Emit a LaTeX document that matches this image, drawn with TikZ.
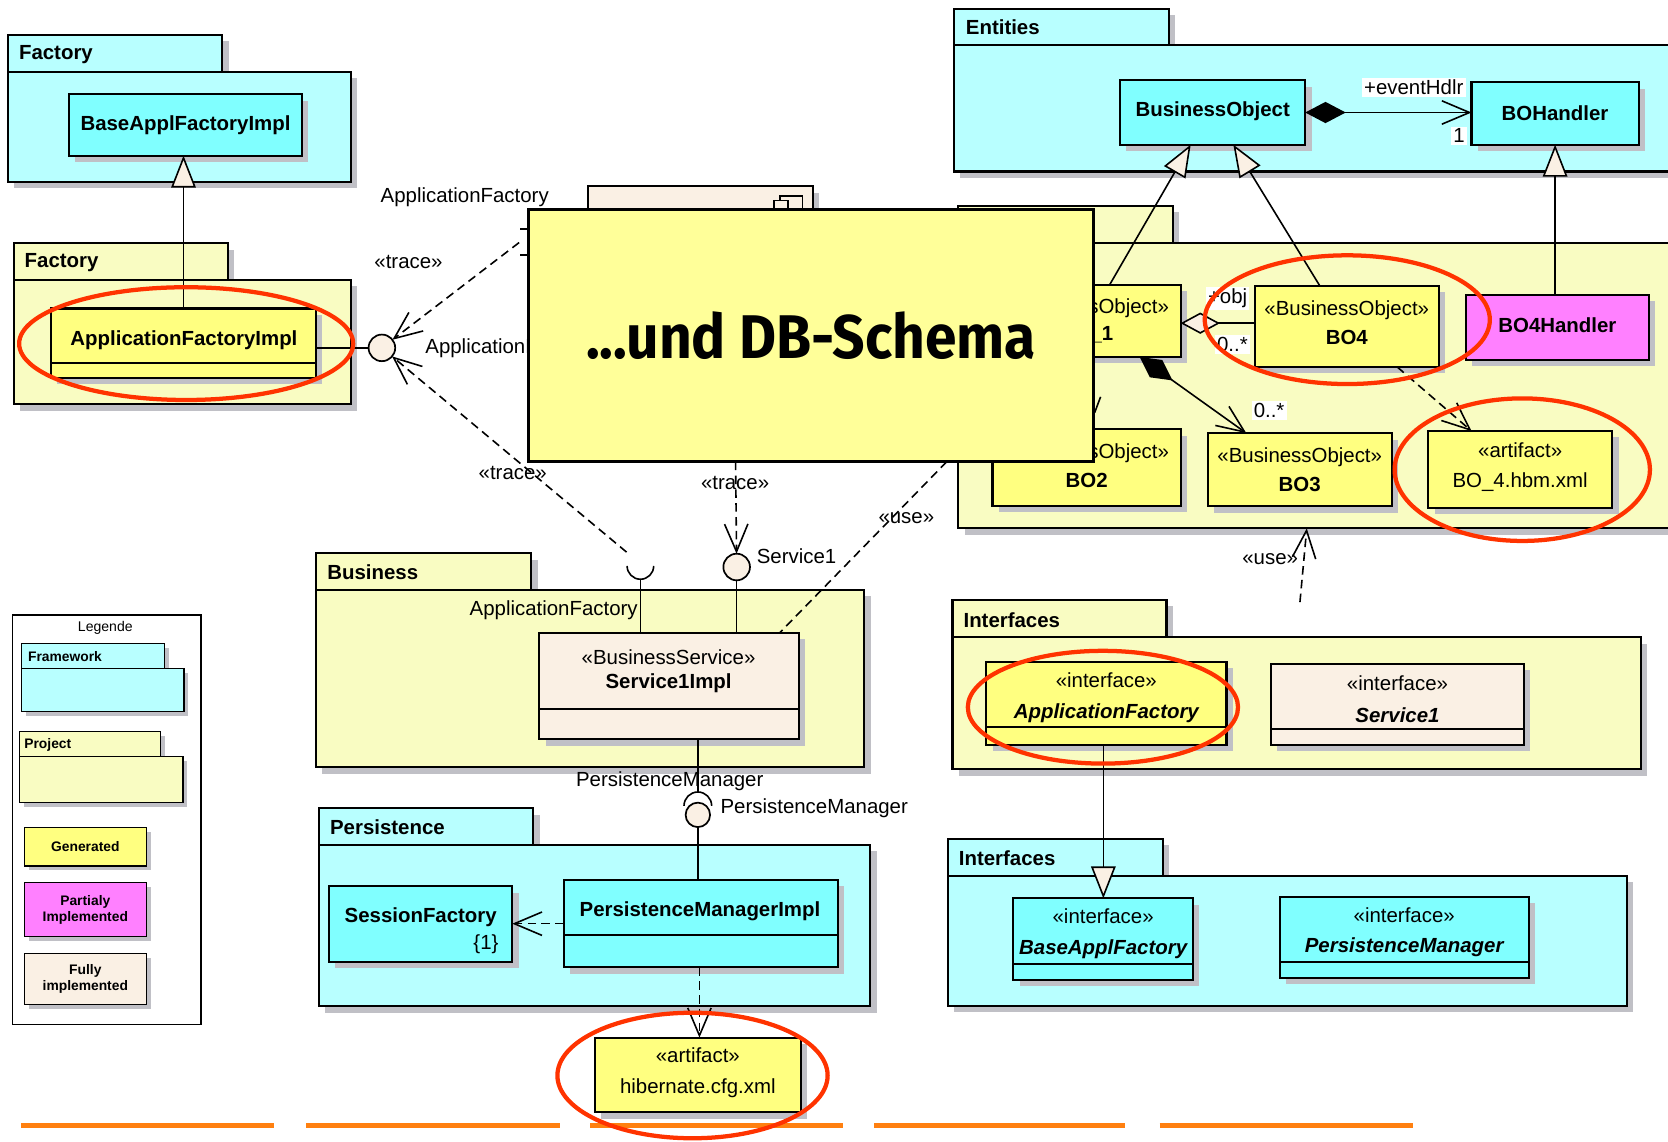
\documentclass[tikz,border=0pt]{standalone}
\usepackage{fontspec}
\setmainfont{Liberation Sans}
\newfontfamily\titlefont{Fira Sans}
\usetikzlibrary{arrows.meta,shadows,fit,calc}
\definecolor{pkgcyan}{RGB}{184,255,255}
\definecolor{clscyan}{RGB}{128,255,255}
\definecolor{pkgyel}{RGB}{249,252,194}
\definecolor{clsyel}{RGB}{255,255,128}
\definecolor{cream}{RGB}{250,240,228}
\definecolor{pink}{RGB}{255,128,255}
\definecolor{shadowc}{RGB}{192,192,198}
\definecolor{notey}{RGB}{255,255,153}
\definecolor{ringred}{RGB}{255,51,0}
\definecolor{barorange}{RGB}{255,128,16}
\begin{document}
\begin{tikzpicture}[x=0.5pt,y=-0.5pt,
  font=\fontsize{9.6}{11}\selectfont,
  shade/.style={drop shadow={shadow xshift=3pt,shadow yshift=-3pt,fill=shadowc,opacity=1}},
  smallshade/.style={drop shadow={shadow xshift=2pt,shadow yshift=-2pt,fill=shadowc,opacity=1}},
  box/.style={draw=black,line width=1pt,inner sep=0pt,outer sep=0pt,shade},
  lbox/.style={draw=black,line width=0.7pt,inner sep=0pt,outer sep=0pt,smallshade},
  pkgname/.style={anchor=west,inner sep=0pt,font=\fontsize{9.6}{11}\selectfont\bfseries},
  txt/.style={inner sep=0pt},
  btxt/.style={inner sep=0pt,font=\fontsize{9.6}{11}\selectfont\bfseries},
  itxt/.style={inner sep=0pt,font=\fontsize{9.6}{11}\selectfont\bfseries\itshape},
  wlbl/.style={fill=white,inner sep=1pt},
  ltxt/.style={inner sep=0pt,align=center,font=\fontsize{6.5}{7.6}\selectfont\bfseries},
  lol/.style={circle,draw=black,line width=0.8pt,fill=cream,inner sep=0pt,outer sep=0pt,minimum size=#1},
  thin/.style={line width=0.75pt},
  dep/.style={thin,dash pattern=on 4pt off 2.5pt,-{Straight Barb[length=13pt,width=11pt]}},
  dashline/.style={thin,dash pattern=on 4pt off 2.5pt},
  gen/.style={thin,-{Triangle[length=15pt,width=11.5pt,fill=cream]}},
  compo/.style={thin,{Diamond[length=19pt,width=10pt,fill=black]}-{Straight Barb[length=13pt,width=11pt]}},
  aggr/.style={thin,{Diamond[length=18.5pt,width=10pt,fill=cream]}-},
  ring/.style={draw=ringred,line width=2pt},
  bar/.style={draw=barorange,line width=2.4pt}]

\useasboundingbox (0,0) rectangle (1568,1073);
\clip (0,0) rectangle (1568,1073);

% ---------- packages ----------
\node[box,fill=pkgcyan,fit={(7.4,32.9)(208.8,68.9)}] (facCtab) {};
\node[box,fill=pkgcyan,fit={(7.4,67.4)(330,170.8)}] (facC) {};
\node[pkgname] (facCname) at (17.5,51) {Factory};

\node[box,fill=pkgyel,fit={(12.8,228.8)(214,264.8)}] (facYtab) {};
\node[box,fill=pkgyel,fit={(12.8,263)(330,380)}] (facY) {};
\node[pkgname] (facYname) at (22.8,246.5) {Factory};

\node[box,fill=pkgcyan,fit={(896.7,8.4)(1098.7,43.6)}] (entTab) {};
\node[box,fill=pkgcyan,fit={(896.7,42.6)(1600,161.2)}] (ent) {};
\node[pkgname] (entName) at (907.6,25.5) {Entities};

\node[box,fill=pkgyel,fit={(900.8,193.6)(1102.7,229.7)}] (busobjTab) {};
\node[box,fill=pkgyel,fit={(900.8,228.7)(1600,496.7)}] (busobj) {};

\node[box,fill=pkgyel,fit={(296.9,520.2)(499.5,556.3)}] (busTab) {};
\node[box,fill=pkgyel,fit={(296.9,554.4)(812.5,721.3)}] (bus) {};
\node[pkgname] (busName) at (307.3,538.2) {Business};

\node[box,fill=pkgcyan,fit={(299.5,759.9)(501.3,795.9)}] (perTab) {};
\node[box,fill=pkgcyan,fit={(299.5,794)(818,946)}] (per) {};
\node[pkgname] (perName) at (309.9,777.9) {Persistence};

\node[box,fill=pkgyel,fit={(895.4,564)(1096.6,600.7)}] (ifYtab) {};
\node[box,fill=pkgyel,fit={(895.4,599)(1542.6,723.2)}] (ifY) {};
\node[pkgname] (ifYname) at (905.4,582.8) {Interfaces};

\node[box,fill=pkgcyan,fit={(891,788.7)(1093,824.7)}] (ifCtab) {};
\node[box,fill=pkgcyan,fit={(891,823.5)(1529.5,945.7)}] (ifC) {};
\node[pkgname] (ifCname) at (901,806.9) {Interfaces};

% ---------- legend ----------
\node[draw=black,line width=0.6pt,fill=white,inner sep=0pt,fit={(11.7,578)(189,963)}] (legend) {};
\node[inner sep=0pt,font=\fontsize{6.6}{7.6}\selectfont] (legendTitle) at (99,590.6) {Legende};
\node[lbox,fill=pkgcyan,fit={(20,604.7)(154.4,629.2)}] (lgFwTab) {};
\node[lbox,fill=pkgcyan,fit={(20,628.3)(172.9,669)}] (lgFw) {};
\node[ltxt,anchor=west] (lgFwName) at (26,617) {Framework};
\node[lbox,fill=pkgyel,fit={(18.5,687.8)(151,712.9)}] (lgPrTab) {};
\node[lbox,fill=pkgyel,fit={(18.5,711.3)(171.9,754.5)}] (lgPr) {};
\node[ltxt,anchor=west] (lgPrName) at (22.5,700.3) {Project};
\node[lbox,fill=clsyel,fit={(22.8,778)(137.6,814)}] (lgGen) {};
\node[ltxt] (lgGenT) at (lgGen.center) {Generated};
\node[lbox,fill=pink,fit={(22.8,829.8)(137.6,880.5)}] (lgPart) {};
\node[ltxt] (lgPartT) at (lgPart.center) {Partialy\\Implemented};
\node[lbox,fill=cream,fit={(22.8,896.2)(137.6,944.1)}] (lgFull) {};
\node[ltxt] (lgFullT) at (lgFull.center) {Fully\\implemented};

% ---------- component (under the note) ----------
\node[box,fill=cream,fit={(553,175)(764,300)}] (comp) {};
\draw[thin,fill=cream] (733,184) rectangle (754.5,200);
\draw[thin,fill=cream] (727.5,188.5) rectangle (741,200);
\draw[thin] (489,215.3) -- (495,215.3);
\draw[thin] (489,239.7) -- (495,239.7);

% ---------- classes ----------
\node[box,fill=clscyan,fit={(64.8,88.7)(284,146.3)}] (baseimpl) {};
\node[btxt] (baseimplT) at (174.4,117.5) {BaseApplFactoryImpl};

\node[box,fill=clsyel,fit={(48,290)(297,355)}] (afimpl) {};
\draw[line width=1pt] ([yshift=6.7pt]afimpl.south west) -- ([yshift=6.7pt]afimpl.south east);
\node[btxt] (afimplT) at (172.9,319.7) {ApplicationFactoryImpl};

\node[box,fill=cream,fit={(507,594.8)(751,695)}] (s1impl) {};
\draw[line width=1pt] ([yshift=14.4pt]s1impl.south west) -- ([yshift=14.4pt]s1impl.south east);
\node[txt] (s1implS) at (628.5,617.5) {«BusinessService»};
\node[btxt] (s1implT) at (628.5,642.7) {Service1Impl};

\node[box,fill=clscyan,fit={(309,833)(481.6,904)}] (sessf) {};
\node[btxt] (sessfT) at (395.5,862.6) {SessionFactory};
\node[txt,anchor=east] (sessfC) at (469,887.8) {\{1\}};

\node[box,fill=clscyan,fit={(530,827.2)(787.6,909.4)}] (pmi) {};
\draw[line width=1pt] ([yshift=15.3pt]pmi.south west) -- ([yshift=15.3pt]pmi.south east);
\node[btxt] (pmiT) at (658,856.4) {PersistenceManagerImpl};

\node[box,fill=clsyel,fit={(559,975.4)(753,1045.6)}] (hib) {};
\node[txt] (hibS) at (656,992.3) {«artifact»};
\node[txt] (hibT) at (656,1023) {hibernate.cfg.xml};

\node[box,fill=clscyan,fit={(1052.9,75.5)(1227,136)}] (bo) {};
\node[btxt] (boT) at (1140,104.7) {BusinessObject};
\node[box,fill=clscyan,fit={(1383.3,77.2)(1540.4,136)}] (boh) {};
\node[btxt] (bohT) at (1461.8,106) {BOHandler};

\node[box,fill=clsyel,fit={(933,267.9)(1109.8,335.5)}] (bo1) {};
\node[txt] (bo1S) at (1021.5,289.9) {«BusinessObject»};
\node[btxt] (bo1T) at (1021.5,315) {BO\_1};

\node[box,fill=clsyel,fit={(933,403.6)(1110,475.7)}] (bo2) {};
\node[txt] (bo2S) at (1021.5,426.4) {«BusinessObject»};
\node[btxt] (bo2T) at (1021.5,451.6) {BO2};

\node[box,fill=clsyel,fit={(1135.4,407.2)(1308.2,476)}] (bo3) {};
\node[txt] (bo3S) at (1221.8,429.7) {«BusinessObject»};
\node[btxt] (bo3T) at (1221.8,455) {BO3};

\node[box,fill=clsyel,fit={(1179.5,268.6)(1352.7,345)}] (bo4) {};
\node[txt] (bo4S) at (1266,292) {«BusinessObject»};
\node[btxt] (bo4T) at (1266,317.3) {BO4};

\node[box,fill=pink,fit={(1378,277)(1550,338)}] (bo4h) {};
\node[btxt] (bo4hT) at (1464,305.5) {BO4Handler};

\node[box,fill=clsyel,fit={(1342.7,405.2)(1515.5,477.4)}] (art4) {};
\node[txt] (art4S) at (1429,423) {«artifact»};
\node[txt] (art4T) at (1429,453.2) {BO\_4.hbm.xml};

\node[box,fill=clsyel,fit={(927.2,622)(1152.9,700.3)}] (iaf) {};
\draw[line width=1pt] ([yshift=8.65pt]iaf.south west) -- ([yshift=8.65pt]iaf.south east);
\node[txt] (iafS) at (1040,639.2) {«interface»};
\node[itxt] (iafT) at (1040,670) {ApplicationFactory};

\node[box,fill=cream,fit={(1194.7,624.2)(1432.6,700.3)}] (is1) {};
\draw[line width=1pt] ([yshift=7.5pt]is1.south west) -- ([yshift=7.5pt]is1.south east);
\node[txt] (is1S) at (1313.7,642.4) {«interface»};
\node[itxt] (is1T) at (1313.7,672) {Service1};

\node[box,fill=clscyan,fit={(952.6,844.5)(1121.4,921.3)}] (ibaf) {};
\draw[line width=1pt] ([yshift=7.55pt]ibaf.south west) -- ([yshift=7.55pt]ibaf.south east);
\node[txt] (ibafS) at (1037,861.7) {«interface»};
\node[itxt] (ibafT) at (1037,892.4) {BaseApplFactory};

\node[box,fill=clscyan,fit={(1203,843)(1437,919)}] (ipm) {};
\draw[line width=1pt] ([yshift=7.5pt]ipm.south west) -- ([yshift=7.5pt]ipm.south east);
\node[txt] (ipmS) at (1320,860) {«interface»};
\node[itxt] (ipmT) at (1320,890) {PersistenceManager};

% ---------- interface symbols ----------
\node[lol=12.5pt] (lolaf) at (359,327) {};
\node[lol=12.5pt] (lols1) at (692.5,533) {};
\node[lol=11.5pt] (lolpm) at (656,766) {};
\coordinate (portA) at (488,228);
\coordinate (sockA) at (589,519);
\coordinate (sockAbot) at (602,544.5);
\coordinate (traceS1) at (691.5,434);
\coordinate (useA) at (890,434);
\coordinate (sockPMtop) at (656,744.5);
\coordinate (useB) at (1222,566);

\draw[thin] (afimpl.east |- lolaf) -- (lolaf);
\draw[dep] (portA) -- (lolaf);
\draw[dep] (sockA) -- (lolaf);
\draw[thin] (614.5,532) arc[start angle=0,end angle=180,radius=12.5];
\draw[thin] (sockAbot) -- (s1impl.north -| sockAbot);
\draw[thin] (lols1.south) -- (s1impl.north -| lols1);
\draw[dep] (traceS1) -- (lols1);
\draw[dashline] (useA) -- (s1impl.north -| 733,0);
\draw[thin] (s1impl.south -| sockPMtop) -- (sockPMtop);
\draw[thin] (643,757.5) arc[start angle=180,end angle=360,radius=13];
\draw[thin] (lolpm.south) -- (pmi.north -| lolpm);
\draw[dep] (pmi.west) -- (sessf.east |- pmi.west);
\draw[dep] (pmi.south -| 657.5,0) -- (hib.north -| 657.5,0);

% ---------- class relations ----------
\draw[gen] (afimpl.north) -- (afimpl.north |- baseimpl.south);
\draw[compo] (bo.east) -- (boh.west |- bo.east);
\draw[gen] (bo1.north -| 1043,0) -- (bo.south -| 1119.3,0);
\draw[gen] (bo4.north -| 1240.6,0) -- (bo.south -| 1159.4,0);
\draw[gen] (bo4h.north -| boh.south) -- (boh.south);
\draw[aggr] (bo1.east |- 0,303.8) -- (bo4.west |- 0,303.8);
\draw[compo] (bo1.south -| 1071.3,0) -- (bo3.north -| 1171.6,0);
\draw[thin] (1034.6,373) -- (1029,388);
\draw[dep] (bo4.south -| 1313.5,0) -- (art4.north -| 1383.3,0);
\draw[dep] (useB) -- (busobj.south -| 1228.4,0);
\draw[gen] (iaf.south -| 1037.2,0) -- (ibaf.north -| 1037.2,0);

% ---------- connector labels ----------
\node[txt,anchor=west] (lblAF1) at (357.5,185) {ApplicationFactory};
\node[txt] (lblTr1) at (384,246.6) {«trace»};
\node[txt,anchor=west] (lblAF2) at (399.5,327.5) {ApplicationFactory};
\node[txt] (lblTr2) at (482,445) {«trace»};
\node[txt] (lblTr3) at (691,454) {«trace»};
\node[txt] (lblUse1) at (852,487) {«use»};
\node[txt,anchor=west] (lblS1) at (711,523) {Service1};
\node[txt] (lblAF3) at (520.5,574) {ApplicationFactory};
\node[txt] (lblPM1) at (629.6,734.6) {PersistenceManager};
\node[txt,anchor=west] (lblPM2) at (677,760) {PersistenceManager};
\node[txt] (lblUse2) at (1194,526) {«use»};
\node[wlbl] (lblEvt) at (1329,82) {+eventHdlr};
\node[wlbl] (lblOne) at (1371.5,127.6) {1};
\node[wlbl] (lblObj) at (1154,280.3) {+obj};
\node[wlbl] (lblMul1) at (1158.5,324) {0..*};
\node[wlbl] (lblMul2) at (1193,386) {0..*};

% ---------- title note ----------
\node[draw=black,line width=1.2pt,fill=notey,inner sep=0pt,fit={(497,197)(1028,434)}] (note) {};
\node[anchor=base,inner sep=0pt] (noteT) at (762.5,337)
  {\resizebox{211.5pt}{22pt}{\titlefont\bfseries ...und DB-Schema}};

% ---------- footer bars ----------
\draw[bar] (20,1057.7) -- (258,1057.7);
\draw[bar] (288,1057.7) -- (526,1057.7);
\draw[bar] (555,1057.7) -- (792,1057.7);
\draw[bar] (822,1057.7) -- (1058,1057.7);
\draw[bar] (1090,1057.7) -- (1328,1057.7);

% ---------- highlight rings ----------
\draw[ring] (175,323) ellipse [x radius=157, y radius=53];
\draw[ring] (1266.5,300.5) ellipse [x radius=134, y radius=60.5];
\draw[ring] (1431,441.5) ellipse [x radius=120, y radius=67];
\draw[ring] (1036.8,664.8) ellipse [x radius=127, y radius=53];
\draw[ring] (651,1011) ellipse [x radius=127, y radius=59];
\end{tikzpicture}
\end{document}
